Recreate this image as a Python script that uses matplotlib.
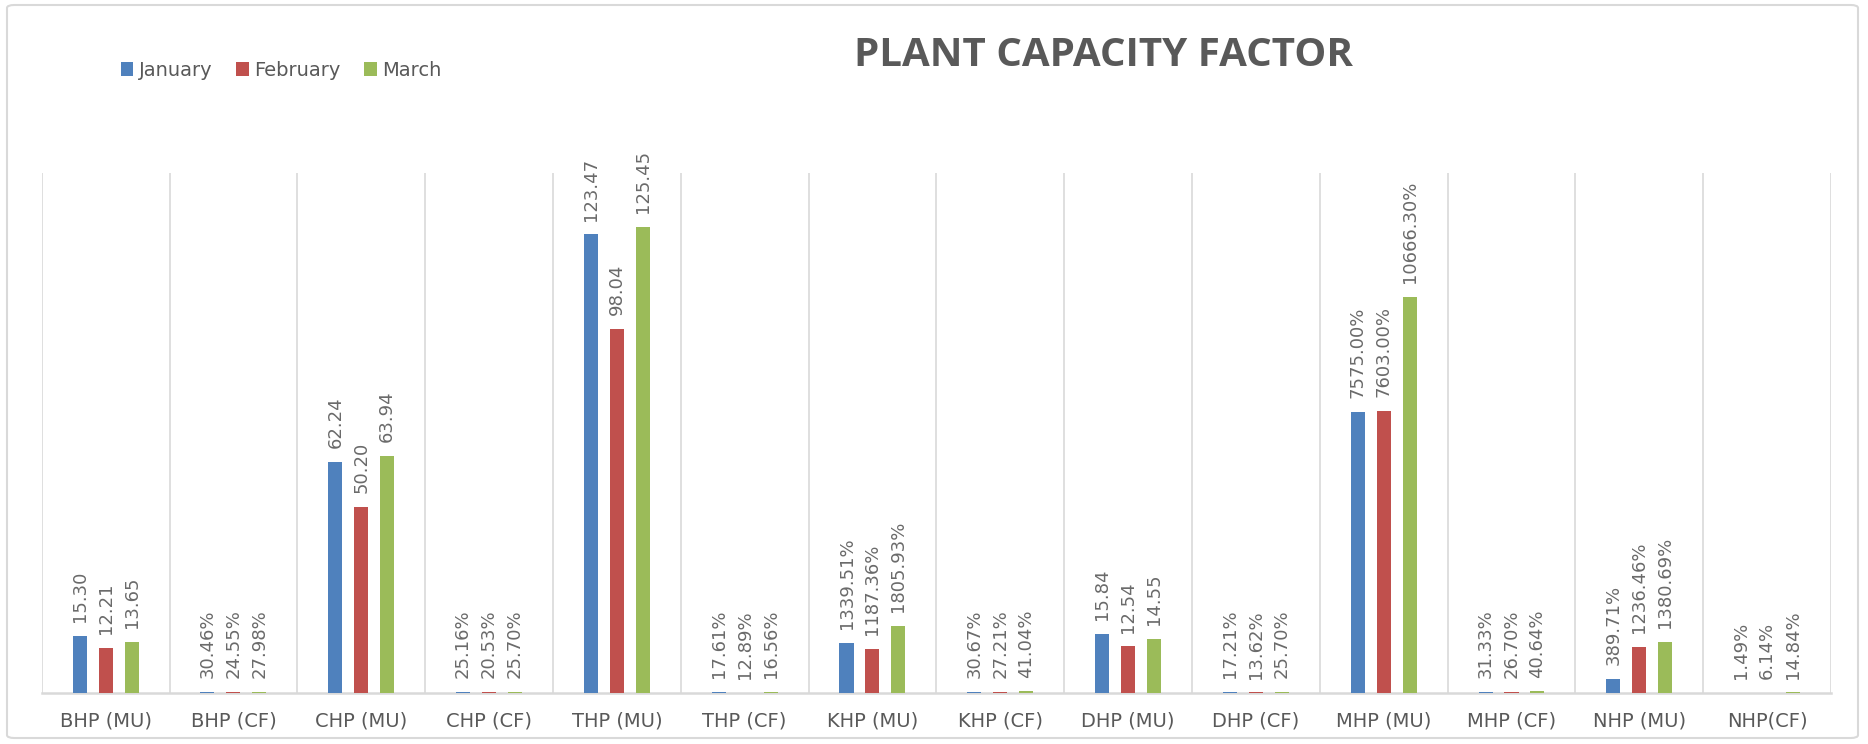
import numpy as np
import matplotlib
matplotlib.use("Agg")
import matplotlib.pyplot as plt
from matplotlib.patches import FancyBboxPatch

# ── Data ──────────────────────────────────────────────────────
categories = ["BHP (MU)", "BHP (CF)", "CHP (MU)", "CHP (CF)", "THP (MU)",
              "THP (CF)", "KHP (MU)", "KHP (CF)", "DHP (MU)", "DHP (CF)",
              "MHP (MU)", "MHP (CF)", "NHP (MU)", "NHP(CF)"]
january  = [15.30, 0.3046, 62.24, 0.2516, 123.47, 0.1761, 13.3951, 0.3067,
            15.84, 0.1721, 75.75, 0.3133, 3.8971, 0.0149]
february = [12.21, 0.2455, 50.20, 0.2053, 98.04, 0.1289, 11.8736, 0.2721,
            12.54, 0.1362, 76.03, 0.2670, 12.3646, 0.0614]
march    = [13.65, 0.2798, 63.94, 0.2570, 125.45, 0.1656, 18.0593, 0.4104,
            14.55, 0.2570, 106.663, 0.4064, 13.8069, 0.1484]
# label number format per category: "num" = 0.00, "pct" = 0.00%
label_fmt = ["num", "pct", "num", "pct", "num", "pct", "pct", "pct",
             "num", "pct", "pct", "pct", "pct", "pct"]

series = {"January": january, "February": february, "March": march}
colors = {"January": "#4F81BD", "February": "#C0504D", "March": "#9BBB59"}
offsets = {"January": -0.203, "February": 0.0, "March": 0.203}

TXT = "#595959"
GRID = "#d9d9d9"

fig = plt.figure(figsize=(18.68, 7.44), dpi=100)
ax = fig.add_axes([41.7 / 1868, 1 - 693 / 744, (1831 - 41.7) / 1868, (693 - 173) / 744])

x = np.arange(len(categories))
for name, vals in series.items():
    ax.bar(x + offsets[name], vals, width=0.11, color=colors[name],
           label=name, zorder=3)
    for xi, v, fmt in zip(x, vals, label_fmt):
        lab = f"{v:.2f}" if fmt == "num" else f"{v * 100:.2f}%"
        ax.annotate(lab, xy=(xi + offsets[name], v), xytext=(0, 10),
                    textcoords="offset points", rotation=90,
                    ha="center", va="bottom", fontsize=13, color="#6a6a6a",
                    annotation_clip=False)

ax.set_xlim(-0.5, len(categories) - 0.5)
ax.set_ylim(0, 140)
for b in np.arange(-0.5, len(categories), 1.0):
    ax.axvline(b, color=GRID, linewidth=1.2, zorder=1)

for s in ["top", "right", "left"]:
    ax.spines[s].set_visible(False)
ax.spines["bottom"].set_color(GRID)
ax.spines["bottom"].set_linewidth(1.8)
ax.set_yticks([])
ax.set_xticks(x)
ax.set_xticklabels(categories, fontsize=14, color=TXT)
ax.tick_params(axis="x", length=0, pad=13)

fig.text(1103 / 1868, 1 - 56 / 744, "PLANT CAPACITY FACTOR", family="Open Sans",
         fontweight="bold", fontsize=29, color=TXT, ha="center", va="center")

fig.legend(loc="center left", bbox_to_anchor=(103 / 1868, 1 - 70 / 744), ncol=3,
           frameon=False, fontsize=14, labelcolor=TXT, handlelength=0.65,
           handleheight=0.7, handletextpad=0.3, columnspacing=1.2)

# chart border
fig.patches.append(FancyBboxPatch((7 / 1868, 6 / 744), 1851 / 1868, 733 / 744,
                                  boxstyle="round,pad=0,rounding_size=0.004",
                                  transform=fig.transFigure, fill=False,
                                  edgecolor=GRID, linewidth=1.5))

fig.savefig("out.png", dpi=100)
